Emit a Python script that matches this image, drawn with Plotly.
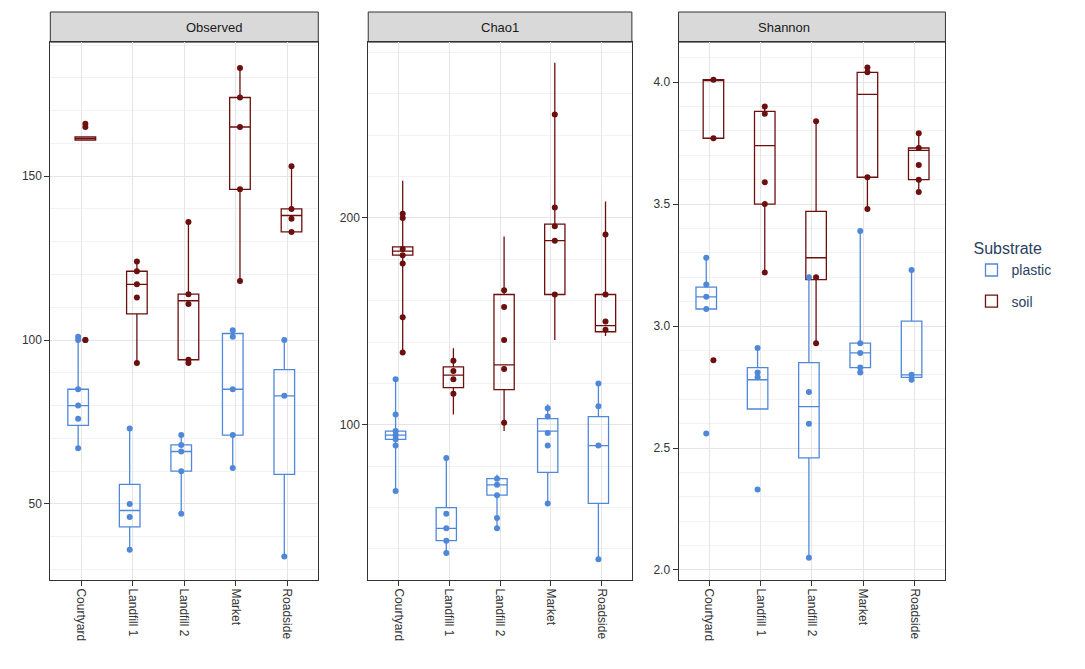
import plotly.graph_objects as go

SITES = ["Courtyard", "Landfill 1", "Landfill 2", "Market", "Roadside"]
METRICS = ["Observed", "Chao1", "Shannon"]

# box stats per metric: (lower whisker, q1, median, q3, upper whisker) per site
obs_plastic = [(67, 74, 80, 85, 101), (36, 43, 48, 56, 73), (47, 60, 66, 68, 71),
               (61, 71, 85, 102, 103), (34, 59, 83, 91, 100)]
obs_soil = [(161, 161, 161.5, 162, 162), (93, 108, 117, 121, 124), (93, 94, 112, 114, 136),
            (118, 146, 165, 174, 183), (133, 133, 138, 140, 153)]
chao_plastic = [(68, 93, 95, 97, 122), (38, 44, 50, 60, 84), (50, 66, 71, 74, 76),
                (62, 77, 97, 103, 110), (35, 62, 90, 104, 120)]
chao_soil = [(135, 182, 184, 186, 218), (105, 118, 124, 128, 137), (97, 117, 129, 163, 191),
             (141, 163, 189, 197, 275), (143, 145, 148, 163, 208)]
shan_plastic = [(3.07, 3.07, 3.12, 3.16, 3.28), (2.66, 2.66, 2.78, 2.83, 2.91),
                (2.05, 2.46, 2.67, 2.85, 3.21), (2.81, 2.83, 2.89, 2.93, 3.39),
                (2.78, 2.79, 2.80, 3.02, 3.23)]
shan_soil = [(3.77, 3.77, 4.01, 4.01, 4.01), (3.22, 3.50, 3.74, 3.88, 3.90),
             (2.93, 3.19, 3.28, 3.47, 3.84), (3.48, 3.61, 3.95, 4.04, 4.06),
             (3.56, 3.60, 3.72, 3.73, 3.79)]

# sample points per site
obs_plastic_pts = [[101, 85, 80, 76, 67, 100], [73, 50, 46, 36], [71, 68, 66, 60, 47],
                   [103, 101, 85, 71, 61], [100, 83, 34]]
obs_soil_pts = [[166, 165, 100, 100], [124, 121, 117, 113, 93], [136, 114, 111, 94, 93],
                [183, 174, 165, 146, 118], [153, 140, 137, 133]]
chao_plastic_pts = [[122, 105, 97, 95, 93, 90, 68], [84, 57, 50, 44, 38], [74, 71, 66, 55, 50],
                    [108, 104, 96, 90, 62], [120, 109, 90, 35]]
chao_soil_pts = [[202, 200, 185, 182, 178, 152, 135], [131, 126, 122, 115], [165, 157, 141, 127, 101],
                 [250, 205, 196, 189, 163], [192, 163, 150, 146]]
shan_plastic_pts = [[3.28, 3.17, 3.12, 3.07, 2.56], [2.91, 2.81, 2.79, 2.33], [3.20, 2.73, 2.60, 2.05],
                    [3.39, 2.93, 2.89, 2.83, 2.81], [3.23, 2.80, 2.78]]
shan_soil_pts = [[4.01, 3.77, 2.86], [3.90, 3.87, 3.59, 3.50, 3.22], [3.84, 3.20, 2.93],
                 [4.06, 4.04, 3.61, 3.48], [3.79, 3.73, 3.66, 3.60, 3.55]]

Y_RANGES = [[26.8, 190.9], [25, 285], [1.959, 4.164]]
Y_TICKS = [[50, 100, 150], [100, 200], [2.0, 2.5, 3.0, 3.5, 4.0]]
Y_FORMATS = ["", "", ".1f"]

PLASTIC = "#4f88d9"
SOIL = "#6b0f0f"

panels = [
    (obs_plastic, obs_soil, obs_plastic_pts, obs_soil_pts),
    (chao_plastic, chao_soil, chao_plastic_pts, chao_soil_pts),
    (shan_plastic, shan_soil, shan_plastic_pts, shan_soil_pts),
]
x_domains = [[0.039, 0.286], [0.332, 0.575], [0.618, 0.864]]
y_domain = [0.145, 0.949]
strip = [0.949, 0.994]

fig = go.Figure()
for p, (bp, bs, pp, ps) in enumerate(panels):
    ax = "" if p == 0 else str(p + 1)
    for name, stats, pts, col, off in [("plastic", bp, pp, PLASTIC, -0.06),
                                       ("soil", bs, ps, SOIL, 0.08)]:
        xs = [i + 1 + off for i in range(len(SITES))]
        fig.add_trace(go.Box(
            x=xs, lowerfence=[s[0] for s in stats], q1=[s[1] for s in stats],
            median=[s[2] for s in stats], q3=[s[3] for s in stats],
            upperfence=[s[4] for s in stats], width=0.4, whiskerwidth=0,
            line=dict(color=col, width=1.3), fillcolor="rgba(0,0,0,0)",
            boxpoints=False, name=name, legendgroup=name, showlegend=(p == 0),
            xaxis="x" + ax, yaxis="y" + ax,
        ))
        px, py = [], []
        for i, vals in enumerate(pts):
            px += [i + 1 + off] * len(vals)
            py += vals
        fig.add_trace(go.Scatter(
            x=px, y=py, mode="markers", marker=dict(color=col, size=6),
            showlegend=False, legendgroup=name, hoverinfo="y",
            xaxis="x" + ax, yaxis="y" + ax,
        ))

    axis_common = dict(showline=True, mirror=True, linecolor="#333", linewidth=1,
                       gridcolor="#e5e5e5", zeroline=False, ticks="outside",
                       tickcolor="#333", tickfont=dict(size=12, color="#333"),
                       automargin=False)
    fig.layout["xaxis" + ax] = dict(
        domain=x_domains[p], range=[0.4, 5.6], tickvals=[1, 2, 3, 4, 5],
        ticktext=SITES, tickangle=90, anchor="y" + ax, **axis_common)
    fig.layout["yaxis" + ax] = dict(
        domain=y_domain, range=Y_RANGES[p], tickvals=Y_TICKS[p], anchor="x" + ax,
        tickformat=Y_FORMATS[p],
        minor=dict(showgrid=True, gridcolor="#f2f2f2"), **axis_common)

    fig.add_shape(type="rect", xref="paper", yref="paper",
                  x0=x_domains[p][0], x1=x_domains[p][1], y0=strip[0], y1=strip[1],
                  fillcolor="#d9d9d9", line=dict(color="#333", width=1), layer="below")
    fig.add_annotation(x=sum(x_domains[p]) / 2, y=sum(strip) / 2, xref="paper", yref="paper",
                       yanchor="middle", text=METRICS[p], showarrow=False,
                       font=dict(size=13, color="#1a1a1a"))

fig.update_layout(
    width=1085, height=669, margin=dict(l=0, r=0, t=0, b=0, autoexpand=False),
    plot_bgcolor="white", paper_bgcolor="white",
    font=dict(family="Liberation Sans, Arial, sans-serif"),
    legend=dict(title=dict(text="Substrate", font=dict(size=16)), font=dict(size=14),
                x=0.888, y=0.6, yanchor="middle"),
)

fig.write_html("out.html")
